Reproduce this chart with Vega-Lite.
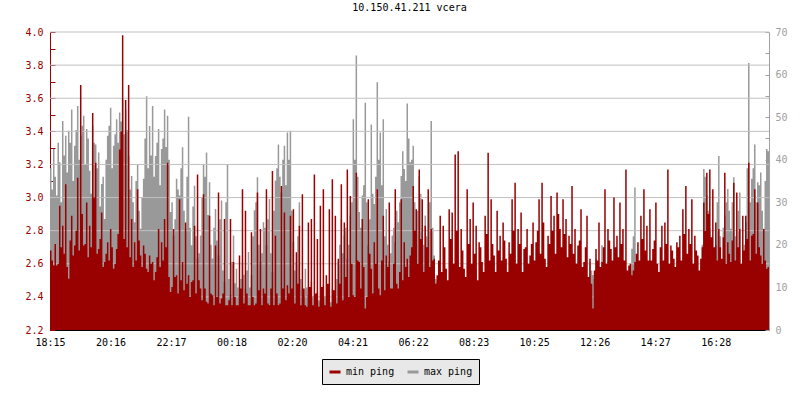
{
  "$schema": "https://vega.github.io/schema/vega-lite/v6.json",
  "autosize": "none",
  "width": 719,
  "height": 298,
  "padding": {"left": 50, "top": 32, "right": 31, "bottom": 70},
  "background": "white",
  "title": {"text": "10.150.41.211 vcera", "font": "DejaVu Sans Mono", "fontSize": 10, "fontWeight": "normal", "color": "black", "offset": 14},
  "config": {"view": {"stroke": null}, "axis": {"labelFont": "DejaVu Sans Mono", "labelFontSize": 10, "title": null}},
  "data": {"values": [
    {"m":0,"r":2.68,"g":38},{"m":6,"r":2.59,"g":42.5},{"m":12,"r":2.59,"g":31.6},{"m":18,"r":2.95,"g":39.4},{"m":24,"r":2.83,"g":49.1},
    {"m":30,"r":3.08,"g":45.6},{"m":36,"r":2.51,"g":46.8},{"m":42,"r":2.89,"g":51.8},{"m":48,"r":2.71,"g":43.3},{"m":54,"r":3.12,"g":52.6},
    {"m":60,"r":3.68,"g":45.6},{"m":66,"r":2.71,"g":50.3},{"m":72,"r":2.97,"g":47.2},{"m":78,"r":2.83,"g":37.4},{"m":84,"r":3.51,"g":47.9},
    {"m":90,"r":3.21,"g":43.6},{"m":96,"r":2.69,"g":41.7},{"m":102,"r":2.91,"g":34.3},{"m":108,"r":2.61,"g":26.1},{"m":114,"r":2.73,"g":45.6},
    {"m":120,"r":2.81,"g":52.2},{"m":126,"r":2.57,"g":43.3},{"m":132,"r":2.69,"g":49.5},{"m":138,"r":3.29,"g":51.1},{"m":144,"r":3.98,"g":54.2},
    {"m":150,"r":3.59,"g":51.8},{"m":156,"r":3.68,"g":40.9},{"m":162,"r":2.87,"g":36.2},{"m":168,"r":2.73,"g":25.3},{"m":174,"r":3.05,"g":39.0},
    {"m":180,"r":2.65,"g":23.8},{"m":186,"r":2.71,"g":35.5},{"m":192,"r":2.57,"g":54.9},{"m":198,"r":2.65,"g":47.9},{"m":204,"r":2.61,"g":52.6},
    {"m":210,"r":2.55,"g":40.9},{"m":216,"r":2.81,"g":47.2},{"m":222,"r":2.73,"g":42.5},{"m":228,"r":2.87,"g":51.8},{"m":234,"r":3.21,"g":50.3},
    {"m":240,"r":2.43,"g":27.7},{"m":246,"r":2.81,"g":22.2},{"m":252,"r":2.53,"g":35.5},{"m":258,"r":2.99,"g":31.6},{"m":264,"r":2.61,"g":42.9},
    {"m":270,"r":2.85,"g":23.8},{"m":276,"r":2.53,"g":50.1},{"m":282,"r":2.49,"g":19.9},{"m":288,"r":2.83,"g":33.9},{"m":294,"r":3.14,"g":16.8},
    {"m":300,"r":2.45,"g":22.2},{"m":306,"r":3.02,"g":39.0},{"m":312,"r":2.37,"g":41.7},{"m":318,"r":2.89,"g":34.7},{"m":324,"r":2.41,"g":16.8},
    {"m":330,"r":2.71,"g":28.4},{"m":336,"r":3.03,"g":17.5},{"m":342,"r":2.39,"g":30.4},{"m":348,"r":2.87,"g":11.3},{"m":354,"r":2.35,"g":39.0},
    {"m":360,"r":2.87,"g":8.2},{"m":366,"r":2.61,"g":22.2},{"m":372,"r":2.35,"g":14.4},{"m":378,"r":2.65,"g":8.2},{"m":384,"r":3.05,"g":16.0},
    {"m":390,"r":2.92,"g":9.7},{"m":396,"r":2.35,"g":18.3},{"m":402,"r":2.79,"g":12.9},{"m":408,"r":2.35,"g":28.1},{"m":414,"r":3.03,"g":35.9},
    {"m":420,"r":2.81,"g":16.0},{"m":426,"r":2.45,"g":25.3},{"m":432,"r":3.05,"g":19.9},{"m":438,"r":2.35,"g":30.8},{"m":444,"r":3.16,"g":13.6},
    {"m":450,"r":2.77,"g":35.1},{"m":456,"r":2.35,"g":43.6},{"m":462,"r":3.07,"g":32.3},{"m":468,"r":2.91,"g":43.3},{"m":474,"r":2.47,"g":46.4},
    {"m":480,"r":2.89,"g":46.8},{"m":486,"r":2.93,"g":20.7},{"m":492,"r":2.67,"g":16.0},{"m":498,"r":2.83,"g":30.0},{"m":504,"r":3.02,"g":9.7},
    {"m":510,"r":2.35,"g":14.4},{"m":516,"r":2.85,"g":8.2},{"m":522,"r":2.87,"g":11.3},{"m":528,"r":3.14,"g":5.8},{"m":534,"r":2.75,"g":9.0},
    {"m":540,"r":2.95,"g":6.6},{"m":546,"r":3.05,"g":10.5},{"m":552,"r":2.53,"g":5.8},{"m":558,"r":2.93,"g":7.4},{"m":564,"r":3.11,"g":9.7},
    {"m":570,"r":2.89,"g":6.6},{"m":576,"r":2.63,"g":16.0},{"m":582,"r":3.08,"g":26.1},{"m":588,"r":2.85,"g":22.2},{"m":594,"r":3.17,"g":16.8},
    {"m":600,"r":3.01,"g":26.9},{"m":606,"r":2.41,"g":49.5},{"m":612,"r":3.15,"g":64.5},{"m":618,"r":2.61,"g":27.7},{"m":624,"r":2.87,"g":31.6},
    {"m":630,"r":2.33,"g":53.4},{"m":636,"r":2.99,"g":19.9},{"m":642,"r":2.57,"g":48.3},{"m":648,"r":2.73,"g":29.6},{"m":654,"r":3.05,"g":58.2},
    {"m":660,"r":2.41,"g":46.4},{"m":666,"r":2.89,"g":49.5},{"m":672,"r":2.65,"g":28.4},{"m":678,"r":2.97,"g":16.0},{"m":684,"r":2.45,"g":22.2},
    {"m":690,"r":3.05,"g":20.7},{"m":696,"r":2.45,"g":25.3},{"m":702,"r":2.99,"g":36.2},{"m":708,"r":2.73,"g":37.8},{"m":714,"r":2.63,"g":53.2},
    {"m":720,"r":2.65,"g":39.4},{"m":726,"r":3.07,"g":43.3},{"m":732,"r":2.93,"g":20.7},{"m":738,"r":3.17,"g":36.2},{"m":744,"r":2.99,"g":23.8},
    {"m":750,"r":2.83,"g":26.9},{"m":756,"r":3.05,"g":16.0},{"m":762,"r":2.81,"g":49.1},{"m":768,"r":2.63,"g":17.5},{"m":774,"r":2.53,"g":11.3},
    {"m":780,"r":2.89,"g":5.8},{"m":786,"r":2.83,"g":8.2},{"m":792,"r":2.57,"g":5.1},{"m":798,"r":2.93,"g":5.8},{"m":804,"r":2.91,"g":4.7},
    {"m":810,"r":3.26,"g":5.1},{"m":816,"r":3.28,"g":10.5},{"m":822,"r":2.81,"g":5.1},{"m":828,"r":2.57,"g":5.5},{"m":834,"r":3.05,"g":9.7},
    {"m":840,"r":2.87,"g":5.1},{"m":846,"r":2.97,"g":4.7},{"m":852,"r":2.83,"g":14.4},{"m":858,"r":2.73,"g":5.1},{"m":864,"r":2.61,"g":5.8},
    {"m":870,"r":2.89,"g":8.2},{"m":876,"r":3.27,"g":5.1},{"m":882,"r":2.99,"g":4.7},{"m":888,"r":2.65,"g":16.0},{"m":894,"r":2.92,"g":5.1},
    {"m":900,"r":2.77,"g":5.8},{"m":906,"r":2.85,"g":6.6},{"m":912,"r":2.63,"g":4.7},{"m":918,"r":2.73,"g":5.1},{"m":924,"r":2.99,"g":5.8},
    {"m":930,"r":3.09,"g":5.1},{"m":936,"r":2.81,"g":11.3},{"m":942,"r":2.91,"g":5.1},{"m":948,"r":2.69,"g":9.0},{"m":954,"r":2.81,"g":4.7},
    {"m":960,"r":2.65,"g":5.8},{"m":966,"r":2.85,"g":5.1},{"m":972,"r":2.73,"g":4.7},{"m":978,"r":2.99,"g":9.7},{"m":984,"r":3.09,"g":5.1},
    {"m":990,"r":2.63,"g":4.7},{"m":996,"r":2.77,"g":5.1},{"m":1002,"r":3.01,"g":5.8},{"m":1008,"r":2.89,"g":8.2},{"m":1014,"r":3.03,"g":5.1},
    {"m":1020,"r":2.81,"g":5.8},{"m":1026,"r":2.99,"g":4.7},{"m":1032,"r":2.87,"g":5.5},{"m":1038,"r":2.77,"g":5.1},{"m":1044,"r":3.07,"g":13.6},
    {"m":1050,"r":2.81,"g":6.6},{"m":1056,"r":2.71,"g":5.1},{"m":1062,"r":2.93,"g":4.7},{"m":1068,"r":2.61,"g":5.1},{"m":1074,"r":2.89,"g":5.5},
    {"m":1080,"r":2.63,"g":16.0},{"m":1086,"r":2.33,"g":12.9},{"m":1092,"r":2.69,"g":16.8},{"m":1098,"r":2.85,"g":8.2},{"m":1104,"r":2.61,"g":19.9},
    {"m":1110,"r":3.05,"g":11.3},{"m":1116,"r":2.81,"g":16.0},{"m":1122,"r":2.69,"g":9.7},{"m":1128,"r":3.0,"g":14.4},{"m":1134,"r":2.77,"g":8.2},
    {"m":1140,"r":2.97,"g":11.3},{"m":1146,"r":2.81,"g":5.8},{"m":1152,"r":3.17,"g":9.7},{"m":1158,"r":2.59,"g":10.5},{"m":1164,"r":2.53,"g":19.1},
    {"m":1170,"r":2.61,"g":33.5},{"m":1176,"r":2.73,"g":8.2},{"m":1182,"r":2.89,"g":9.7},{"m":1188,"r":3.05,"g":16.0},{"m":1194,"r":2.83,"g":11.3},
    {"m":1200,"r":2.93,"g":8.2},{"m":1206,"r":2.69,"g":9.7},{"m":1212,"r":2.97,"g":5.8},{"m":1218,"r":2.55,"g":11.3},{"m":1224,"r":2.83,"g":6.6},
    {"m":1230,"r":2.85,"g":12.9},{"m":1236,"r":3.17,"g":8.2},{"m":1242,"r":2.71,"g":5.8},{"m":1248,"r":2.63,"g":9.7},{"m":1254,"r":2.73,"g":16.0},
    {"m":1260,"r":2.77,"g":6.6},{"m":1266,"r":2.93,"g":9.0},{"m":1272,"r":3.07,"g":11.3},{"m":1278,"r":2.81,"g":7.4},{"m":1284,"r":2.99,"g":12.9},
    {"m":1290,"r":2.77,"g":8.2},{"m":1296,"r":2.65,"g":9.7},{"m":1302,"r":2.63,"g":5.8},{"m":1308,"r":2.97,"g":37.8},{"m":1314,"r":3.15,"g":31.6},
    {"m":1320,"r":3.17,"g":23.8},{"m":1326,"r":3.05,"g":16.8},{"m":1332,"r":2.85,"g":19.9},{"m":1338,"r":2.81,"g":40.9},{"m":1344,"r":2.63,"g":16.0},
    {"m":1350,"r":3.15,"g":26.9},{"m":1356,"r":2.73,"g":33.1},{"m":1362,"r":2.61,"g":23.8},{"m":1368,"r":3.09,"g":35.9},{"m":1374,"r":3.03,"g":16.0},
    {"m":1380,"r":2.81,"g":32.3},{"m":1386,"r":2.89,"g":8.2},{"m":1392,"r":2.89,"g":25.3},{"m":1398,"r":3.21,"g":62.7},{"m":1404,"r":2.77,"g":35.5},
    {"m":1410,"r":3.05,"g":43.6},{"m":1416,"r":2.97,"g":34.7},{"m":1422,"r":2.65,"g":37.0},{"m":1428,"r":2.81,"g":23.8},{"m":1434,"r":2.57,"g":42.5},
    {"m":1440,"r":2.57,"g":42.5},
    {"m":3,"r":2.62,"g":33},{"m":9,"r":2.72,"g":36},{"m":15,"r":2.6,"g":44},{"m":21,"r":2.7,"g":30},{"m":27,"r":2.66,"g":41},
    {"m":33,"r":2.58,"g":37},{"m":39,"r":2.74,"g":44},{"m":45,"r":2.65,"g":35},{"m":51,"r":2.8,"g":47},{"m":57,"r":2.68,"g":40},
    {"m":63,"r":2.9,"g":48},{"m":69,"r":2.72,"g":39},{"m":75,"r":2.64,"g":45},{"m":81,"r":2.7,"g":32},{"m":87,"r":3.0,"g":44},
    {"m":93,"r":2.66,"g":38},{"m":99,"r":2.75,"g":29},{"m":105,"r":2.58,"g":36},{"m":111,"r":2.66,"g":40},{"m":117,"r":2.62,"g":48},
    {"m":123,"r":2.7,"g":38},{"m":129,"r":2.6,"g":46},{"m":135,"r":2.78,"g":44},{"m":141,"r":3.4,"g":49},{"m":147,"r":2.75,"g":46},
    {"m":153,"r":2.7,"g":47},{"m":159,"r":2.64,"g":33},{"m":165,"r":2.58,"g":30},{"m":171,"r":2.62,"g":35},{"m":177,"r":2.74,"g":28},
    {"m":183,"r":2.58,"g":31},{"m":189,"r":2.66,"g":45},{"m":195,"r":2.55,"g":38},{"m":201,"r":2.6,"g":41},{"m":207,"r":2.5,"g":36},
    {"m":213,"r":2.64,"g":44},{"m":219,"r":2.58,"g":34},{"m":225,"r":2.62,"g":45},{"m":231,"r":2.7,"g":43},{"m":237,"r":2.52,"g":40},
    {"m":243,"r":2.46,"g":30},{"m":249,"r":2.52,"g":26},{"m":255,"r":2.42,"g":33},{"m":261,"r":2.5,"g":38},{"m":267,"r":2.44,"g":28},
    {"m":273,"r":2.48,"g":36},{"m":279,"r":2.4,"g":24},{"m":285,"r":2.5,"g":29},{"m":291,"r":2.42,"g":22},{"m":297,"r":2.5,"g":18},
    {"m":303,"r":2.38,"g":31},{"m":309,"r":2.45,"g":36},{"m":315,"r":2.36,"g":27},{"m":321,"r":2.42,"g":20},{"m":327,"r":2.35,"g":24},
    {"m":333,"r":2.4,"g":21},{"m":339,"r":2.36,"g":26},{"m":345,"r":2.42,"g":14},{"m":351,"r":2.35,"g":30},{"m":357,"r":2.38,"g":12},
    {"m":363,"r":2.35,"g":16},{"m":369,"r":2.4,"g":11},{"m":375,"r":2.35,"g":10},{"m":381,"r":2.45,"g":12},{"m":387,"r":2.36,"g":13},
    {"m":393,"r":2.42,"g":14},{"m":399,"r":2.35,"g":10},{"m":405,"r":2.4,"g":22},{"m":411,"r":2.36,"g":30},{"m":417,"r":2.44,"g":20},
    {"m":423,"r":2.35,"g":18},{"m":429,"r":2.42,"g":24},{"m":435,"r":2.36,"g":26},{"m":441,"r":2.45,"g":18},{"m":447,"r":2.35,"g":28},
    {"m":453,"r":2.42,"g":38},{"m":459,"r":2.36,"g":36},{"m":465,"r":2.45,"g":40},{"m":471,"r":2.38,"g":34},{"m":477,"r":2.42,"g":40},
    {"m":483,"r":2.45,"g":28},{"m":489,"r":2.36,"g":14},{"m":495,"r":2.48,"g":22},{"m":501,"r":2.35,"g":12},{"m":507,"r":2.45,"g":8},
    {"m":513,"r":2.34,"g":10},{"m":519,"r":2.46,"g":7},{"m":525,"r":2.35,"g":8},{"m":531,"r":2.42,"g":6},{"m":537,"r":2.34,"g":7},
    {"m":543,"r":2.46,"g":6},{"m":549,"r":2.35,"g":8},{"m":555,"r":2.48,"g":6},{"m":561,"r":2.34,"g":6.5},{"m":567,"r":2.44,"g":8},
    {"m":573,"r":2.36,"g":12},{"m":579,"r":2.48,"g":20},{"m":585,"r":2.38,"g":18},{"m":591,"r":2.52,"g":24},{"m":597,"r":2.4,"g":20},
    {"m":603,"r":2.6,"g":30},{"m":609,"r":2.4,"g":40},{"m":615,"r":2.62,"g":36},{"m":621,"r":2.45,"g":24},{"m":627,"r":2.58,"g":34},
    {"m":633,"r":2.4,"g":30},{"m":639,"r":2.66,"g":26},{"m":645,"r":2.42,"g":32},{"m":651,"r":2.6,"g":36},{"m":657,"r":2.45,"g":40},
    {"m":663,"r":2.62,"g":34},{"m":669,"r":2.44,"g":22},{"m":675,"r":2.58,"g":20},{"m":681,"r":2.45,"g":18},{"m":687,"r":2.6,"g":24},
    {"m":693,"r":2.48,"g":28},{"m":699,"r":2.55,"g":30},{"m":705,"r":2.5,"g":42},{"m":711,"r":2.58,"g":35},{"m":717,"r":2.52,"g":45},
    {"m":723,"r":2.7,"g":40},{"m":729,"r":2.8,"g":30},{"m":735,"r":2.6,"g":28},{"m":741,"r":2.75,"g":32},{"m":747,"r":2.55,"g":20},
    {"m":753,"r":2.7,"g":22},{"m":759,"r":2.58,"g":30},{"m":765,"r":2.62,"g":24},{"m":771,"r":2.48,"g":12},{"m":777,"r":2.62,"g":7},
    {"m":783,"r":2.55,"g":5},{"m":789,"r":2.7,"g":6},{"m":795,"r":2.5,"g":5},{"m":801,"r":2.75,"g":5.5},{"m":807,"r":2.6,"g":5},
    {"m":813,"r":2.8,"g":6},{"m":819,"r":2.58,"g":5},{"m":825,"r":2.68,"g":6},{"m":831,"r":2.52,"g":5},{"m":837,"r":2.72,"g":5},
    {"m":843,"r":2.6,"g":6},{"m":849,"r":2.66,"g":8},{"m":855,"r":2.5,"g":5},{"m":861,"r":2.7,"g":5},{"m":867,"r":2.55,"g":6},
    {"m":873,"r":2.78,"g":5},{"m":879,"r":2.62,"g":5.5},{"m":885,"r":2.72,"g":9},{"m":891,"r":2.55,"g":5},{"m":897,"r":2.68,"g":6},
    {"m":903,"r":2.62,"g":5},{"m":909,"r":2.74,"g":5},{"m":915,"r":2.55,"g":5.5},{"m":921,"r":2.66,"g":5},{"m":927,"r":2.8,"g":5},
    {"m":933,"r":2.6,"g":7},{"m":939,"r":2.72,"g":5},{"m":945,"r":2.55,"g":6},{"m":951,"r":2.7,"g":5},{"m":957,"r":2.6,"g":5},
    {"m":963,"r":2.72,"g":5},{"m":969,"r":2.62,"g":5.5},{"m":975,"r":2.8,"g":6},{"m":981,"r":2.66,"g":5},{"m":987,"r":2.85,"g":5},
    {"m":993,"r":2.58,"g":5},{"m":999,"r":2.72,"g":5.5},{"m":1005,"r":2.8,"g":6},{"m":1011,"r":2.66,"g":5},{"m":1017,"r":2.9,"g":5.5},
    {"m":1023,"r":2.7,"g":5},{"m":1029,"r":2.78,"g":5},{"m":1035,"r":2.64,"g":5.5},{"m":1041,"r":2.72,"g":8},{"m":1047,"r":2.66,"g":7},
    {"m":1053,"r":2.6,"g":5},{"m":1059,"r":2.74,"g":5},{"m":1065,"r":2.58,"g":5},{"m":1071,"r":2.7,"g":5.5},{"m":1077,"r":2.52,"g":10},
    {"m":1083,"r":2.48,"g":14},{"m":1089,"r":2.56,"g":12},{"m":1095,"r":2.62,"g":10},{"m":1101,"r":2.58,"g":14},{"m":1107,"r":2.7,"g":12},
    {"m":1113,"r":2.6,"g":14},{"m":1119,"r":2.74,"g":10},{"m":1125,"r":2.62,"g":12},{"m":1131,"r":2.7,"g":9},{"m":1137,"r":2.64,"g":12},
    {"m":1143,"r":2.72,"g":7},{"m":1149,"r":2.62,"g":8},{"m":1155,"r":2.56,"g":12},{"m":1161,"r":2.6,"g":14},{"m":1167,"r":2.56,"g":22},
    {"m":1173,"r":2.66,"g":12},{"m":1179,"r":2.62,"g":8},{"m":1185,"r":2.75,"g":12},{"m":1191,"r":2.68,"g":10},{"m":1197,"r":2.62,"g":9},
    {"m":1203,"r":2.62,"g":7},{"m":1209,"r":2.74,"g":8},{"m":1215,"r":2.6,"g":9},{"m":1221,"r":2.7,"g":8},{"m":1227,"r":2.62,"g":10},
    {"m":1233,"r":2.72,"g":9},{"m":1239,"r":2.6,"g":7},{"m":1245,"r":2.68,"g":8},{"m":1251,"r":2.58,"g":12},{"m":1257,"r":2.7,"g":8},
    {"m":1263,"r":2.62,"g":7},{"m":1269,"r":2.78,"g":10},{"m":1275,"r":2.66,"g":9},{"m":1281,"r":2.72,"g":11},{"m":1287,"r":2.6,"g":9},
    {"m":1293,"r":2.68,"g":7},{"m":1299,"r":2.56,"g":8},{"m":1305,"r":2.7,"g":20},{"m":1311,"r":2.8,"g":36},{"m":1317,"r":2.9,"g":28},
    {"m":1323,"r":2.76,"g":20},{"m":1329,"r":2.7,"g":18},{"m":1335,"r":2.62,"g":30},{"m":1341,"r":2.7,"g":22},{"m":1347,"r":2.76,"g":24},
    {"m":1353,"r":2.6,"g":30},{"m":1359,"r":2.66,"g":28},{"m":1365,"r":2.74,"g":30},{"m":1371,"r":2.62,"g":22},{"m":1377,"r":2.7,"g":28},
    {"m":1383,"r":2.6,"g":14},{"m":1389,"r":2.68,"g":20},{"m":1395,"r":2.75,"g":38},{"m":1401,"r":2.62,"g":30},{"m":1407,"r":2.78,"g":38},
    {"m":1413,"r":2.66,"g":30},{"m":1419,"r":2.7,"g":34},{"m":1425,"r":2.6,"g":28},{"m":1431,"r":2.62,"g":35},{"m":1437,"r":2.58,"g":42}
  ]},
  "layer": [
    {
      "mark": {"type": "area", "interpolate": "step-after", "clip": true},
      "encoding": {
        "x": {"field": "m", "type": "quantitative",
          "scale": {"domain": [0, 1440], "nice": false, "zero": false},
          "axis": {"values": [0, 121.2, 242.4, 363.6, 484.8, 606, 727.2, 848.4, 969.6, 1090.8, 1212, 1333.2],
            "labelExpr": "['18:15','20:16','22:17','00:18','02:20','04:21','06:22','08:23','10:25','12:26','14:27','16:28'][round(datum.value / 121.2)]",
            "tickSize": -5, "labelPadding": 12, "domainColor": "black", "tickColor": "black", "labelColor": "black", "grid": false, "labelFlush": false}},
        "y": {"field": "g", "type": "quantitative",
          "scale": {"domain": [0, 70], "nice": false, "zero": false},
          "axis": {"orient": "right", "values": [0,5,10,15,20,25,30,35,40,45,50,55,60,65,70],
            "labelExpr": "datum.value % 10 == 0 ? datum.label : ''",
            "tickSize": -4, "labelPadding": 10, "domainColor": "#a0a0a0", "tickColor": "#a0a0a0", "labelColor": "#a0a0a0", "grid": false}},
        "color": {"datum": "max ping", "type": "nominal",
          "scale": {"domain": ["min ping", "max ping"], "range": ["#990000", "#999999"]},
          "legend": {"orient": "none", "legendX": 272, "legendY": 327, "direction": "horizontal", "title": null,
            "symbolType": "stroke", "symbolSize": 121, "symbolStrokeWidth": 3,
            "labelFont": "DejaVu Sans Mono", "labelFontSize": 10, "labelColor": "black", "labelOffset": 4,
            "fillColor": "#e8e8e8", "strokeColor": "black", "padding": 6, "columnPadding": 6,
            "encode": {"symbols": {"update": {"stroke": {"scale": "color", "field": "value"}}}}}}
      }
    },
    {
      "data": {"values": [{"v": 2.4}, {"v": 2.6}, {"v": 2.8}, {"v": 3.0}, {"v": 3.2}, {"v": 3.4}, {"v": 3.6}, {"v": 3.8}, {"v": 4.0}]},
      "mark": {"type": "rule", "color": "#c0c0c0", "strokeWidth": 1},
      "encoding": {"y": {"field": "v", "type": "quantitative", "scale": {"domain": [2.2, 4.0], "nice": false, "zero": false}, "axis": null}}
    },
    {
      "mark": {"type": "area", "interpolate": "step-after", "clip": true},
      "encoding": {
        "x": {"field": "m", "type": "quantitative"},
        "y": {"field": "r", "type": "quantitative",
          "scale": {"domain": [2.2, 4.0], "nice": false, "zero": false},
          "axis": {"orient": "left", "values": [2.2,2.3,2.4,2.5,2.6,2.7,2.8,2.9,3.0,3.1,3.2,3.3,3.4,3.5,3.6,3.7,3.8,3.9,4.0],
            "labelExpr": "round(datum.value * 10) % 2 == 0 ? format(datum.value, '.1f') : ''",
            "tickSize": -5, "labelPadding": 12, "domainColor": "#990000", "tickColor": "#990000", "labelColor": "#990000", "grid": false}},
        "color": {"datum": "min ping", "type": "nominal"}
      }
    }
  ],
  "resolve": {"scale": {"y": "independent"}, "axis": {"y": "independent"}}
}
